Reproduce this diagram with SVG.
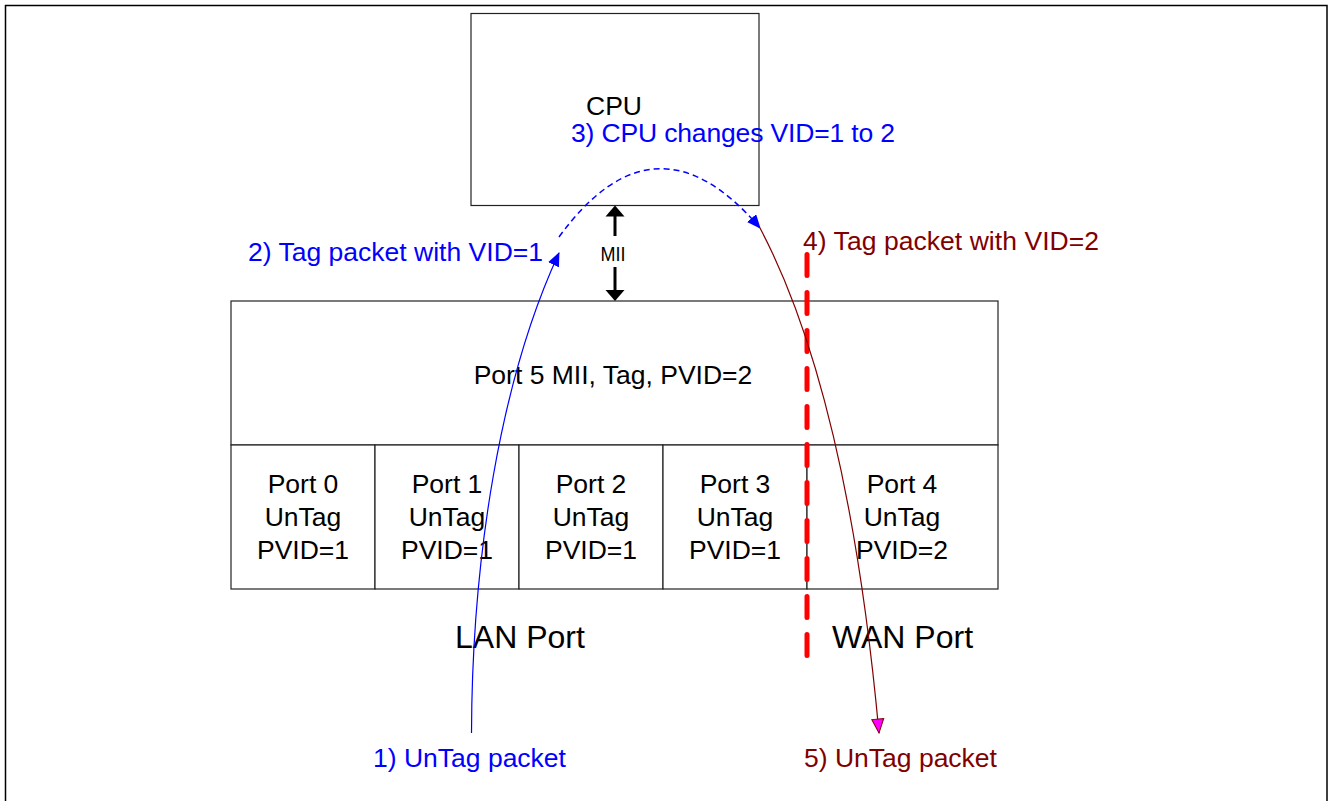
<svg xmlns="http://www.w3.org/2000/svg" width="1330" height="801" viewBox="0 0 1330 801">
<style>
text{font-family:"Liberation Sans",Arial,sans-serif;font-size:26.5px}
.blue{fill:#0000FF}
.red{fill:#800000}
.box{fill:#fff;stroke:#222;stroke-width:1.2}
.big{font-size:32px}
</style>
<defs>
<marker id="ab" markerWidth="14" markerHeight="12" refX="13" refY="6" orient="auto" markerUnits="userSpaceOnUse">
<path d="M0,0 L14,6 L0,12 z" fill="#0000FF"/>
</marker>
<marker id="am" markerWidth="16" markerHeight="14" refX="15" refY="7" orient="auto" markerUnits="userSpaceOnUse">
<path d="M1,1 L15,7 L1,13 z" fill="#FF00FF" stroke="#800000" stroke-width="1"/>
</marker>
</defs>
<rect width="1330" height="801" fill="#fff"/>
<path d="M5.5,801 V5.5 H1327 V801" fill="none" stroke="#000" stroke-width="1.5"/>

<g id="cpu">
<rect class="box" x="471" y="13.5" width="288" height="192"/>
<text x="586" y="115">CPU</text>
</g>

<g id="switch">
<rect class="box" x="231" y="301" width="767" height="144"/>
<text x="613" y="384" text-anchor="middle">Port 5 MII, Tag, PVID=2</text>
</g>

<g id="port0">
<rect class="box" x="231" y="445" width="144" height="144"/>
<text x="303" y="493" text-anchor="middle">Port 0</text>
<text x="303" y="526" text-anchor="middle">UnTag</text>
<text x="303" y="559" text-anchor="middle">PVID=1</text>
</g>
<g id="port1">
<rect class="box" x="375" y="445" width="144" height="144"/>
<text x="447" y="493" text-anchor="middle">Port 1</text>
<text x="447" y="526" text-anchor="middle">UnTag</text>
<text x="447" y="559" text-anchor="middle">PVID=1</text>
</g>
<g id="port2">
<rect class="box" x="519" y="445" width="144" height="144"/>
<text x="591" y="493" text-anchor="middle">Port 2</text>
<text x="591" y="526" text-anchor="middle">UnTag</text>
<text x="591" y="559" text-anchor="middle">PVID=1</text>
</g>
<g id="port3">
<rect class="box" x="663" y="445" width="144" height="144"/>
<text x="735" y="493" text-anchor="middle">Port 3</text>
<text x="735" y="526" text-anchor="middle">UnTag</text>
<text x="735" y="559" text-anchor="middle">PVID=1</text>
</g>
<g id="port4">
<rect class="box" x="807" y="445" width="191" height="144"/>
<text x="902" y="493" text-anchor="middle">Port 4</text>
<text x="902" y="526" text-anchor="middle">UnTag</text>
<text x="902" y="559" text-anchor="middle">PVID=2</text>
</g>

<g id="labels">
<text class="big" x="455" y="648">LAN Port</text>
<text class="big" x="832" y="648">WAN Port</text>
<text class="blue" x="373" y="767">1) UnTag packet</text>
<text class="blue" x="248" y="261" textLength="295">2) Tag packet with VID=1</text>
<text class="blue" x="571" y="142" textLength="324">3) CPU changes VID=1 to 2</text>
<text class="red" x="803" y="250" textLength="296">4) Tag packet with VID=2</text>
<text class="red" x="804" y="767">5) UnTag packet</text>
</g>

<g id="mii">
<line x1="615" y1="214" x2="615" y2="236" stroke="#000" stroke-width="3"/>
<path d="M615,205.5 L624.5,216.5 L605.5,216.5 z" fill="#000"/>
<line x1="615" y1="267" x2="615" y2="292" stroke="#000" stroke-width="3"/>
<path d="M615,301 L624.5,290 L605.5,290 z" fill="#000"/>
<text x="613" y="261" text-anchor="middle" style="font-size:21px" textLength="25" lengthAdjust="spacingAndGlyphs">MII</text>
</g>

<g id="connectors" fill="none">
<line x1="807" y1="254.5" x2="807" y2="658" stroke="#FF0000" stroke-width="5" stroke-linecap="round" stroke-dasharray="21 17"/>
<path d="M471.5,733 C472,560 500,380 559,253" stroke="#0000FF" stroke-width="1.2" marker-end="url(#ab)"/>
<path d="M559,237 Q655,105 760,228" stroke="#0000FF" stroke-width="1.5" stroke-dasharray="6 4" marker-end="url(#ab)"/>
<path d="M760,228 Q848,395 879,733" stroke="#800000" stroke-width="1.2" marker-end="url(#am)"/>
</g>
</svg>
